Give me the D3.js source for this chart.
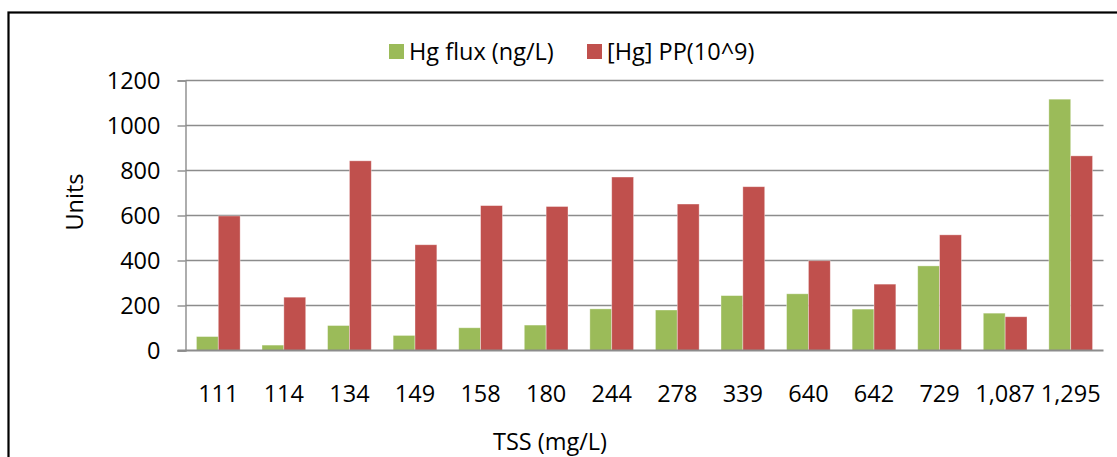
<!doctype html>
<html>
<head>
<meta charset="utf-8">
<title>Hg flux vs TSS</title>
<style>
  body { margin: 0; background: #fff; }
  svg text { font-family: "Open Sans", Lato, sans-serif; fill: #000; }
</style>
</head>
<body>
<svg id="chart"></svg>
<script src="https://cdn.jsdelivr.net/npm/d3@7/dist/d3.min.js"></script>
<script>
  // TSS categories (mg/L)
  const categories = ["111", "114", "134", "149", "158", "180", "244", "278", "339", "640", "642", "729", "1,087", "1,295"];
  const hgFlux = [62, 24, 111, 67, 101, 113, 185, 180, 244, 252, 184, 376, 166, 1117];
  const hgPP   = [598, 237, 843, 470, 644, 640, 771, 651, 728, 399, 295, 514, 150, 865];
  const seriesNames = ["Hg flux (ng/L)", "[Hg] PP(10^9)"];
  const seriesColors = ["#9BBB59", "#C0504D"];
  const yTicks = [0, 200, 400, 600, 800, 1000, 1200];

  const width = 1117, height = 457;
  const fontSize = 23.5;
  const svg = d3.select("#chart").attr("width", width).attr("height", height);

  // outer frame (right / bottom fall outside the picture)
  svg.append("rect")
    .attr("x", 8.5).attr("y", 12.5)
    .attr("width", 1120).attr("height", 460)
    .attr("fill", "none").attr("stroke", "#000").attr("stroke-width", 2.2);

  const plot = { left: 185.5, right: 1103.5, top: 80.5, bottom: 350.5 };

  const x = d3.scaleBand().domain(categories).range([plot.left, plot.right]);
  const xInner = d3.scaleBand().domain([0, 1])
    .range([x.bandwidth() / 6, x.bandwidth() * 5 / 6]);
  const y = d3.scaleLinear().domain([0, 1200]).range([plot.bottom, plot.top]);

  // gridlines
  svg.append("g").selectAll("line")
    .data(yTicks.filter(d => d > 0))
    .join("line")
    .attr("x1", plot.left).attr("x2", plot.right)
    .attr("y1", d => y(d)).attr("y2", d => y(d))
    .attr("stroke", "#8c8c8c").attr("stroke-width", 1.4);

  const yAxis = svg.append("g")
    .attr("transform", `translate(${plot.left},0)`)
    .call(d3.axisLeft(y).tickValues(yTicks).tickSize(8).tickPadding(17).tickFormat(d3.format("d")));
  yAxis.select(".domain").attr("stroke", "#8c8c8c").attr("stroke-width", 1.4);
  yAxis.selectAll(".tick line").attr("stroke", "#8c8c8c").attr("stroke-width", 1.4);
  yAxis.selectAll(".tick text").attr("font-size", fontSize).attr("fill", "#000");

  // bars
  const groups = svg.append("g").selectAll("g")
    .data(categories)
    .join("g")
    .attr("transform", d => `translate(${x(d)},0)`);

  [hgFlux, hgPP].forEach((vals, s) => {
    groups.append("rect")
      .attr("x", xInner(s))
      .attr("width", xInner.bandwidth())
      .attr("y", (d, i) => y(vals[i]))
      .attr("height", (d, i) => plot.bottom - y(vals[i]))
      .attr("fill", seriesColors[s])
      .attr("stroke", "#ffffff").attr("stroke-opacity", 0.45).attr("stroke-width", 0.8);
  });

  // x baseline
  svg.append("line")
    .attr("x1", plot.left - 8).attr("x2", plot.right)
    .attr("y1", plot.bottom).attr("y2", plot.bottom)
    .attr("stroke", "#8c8c8c").attr("stroke-width", 2);

  // x labels
  svg.append("g").selectAll("text")
    .data(categories)
    .join("text")
    .attr("x", d => x(d) + x.bandwidth() / 2)
    .attr("y", 402)
    .attr("text-anchor", "middle")
    .attr("font-size", fontSize)
    .text(d => d);

  // axis titles
  svg.append("text")
    .attr("transform", "translate(83,202) rotate(-90)")
    .attr("text-anchor", "middle")
    .attr("font-size", fontSize)
    .text("Units");

  svg.append("text")
    .attr("x", 550).attr("y", 450)
    .attr("text-anchor", "middle")
    .attr("font-size", fontSize)
    .text("TSS (mg/L)");

  // legend
  const legendX = [389, 587];
  const legend = svg.append("g").selectAll("g")
    .data(seriesNames)
    .join("g")
    .attr("transform", (d, i) => `translate(${legendX[i]},44)`);
  legend.append("rect")
    .attr("width", 15).attr("height", 15)
    .attr("fill", (d, i) => seriesColors[i]);
  legend.append("text")
    .attr("x", 20).attr("y", 15.5)
    .attr("font-size", fontSize)
    .text(d => d);
</script>
</body>
</html>
